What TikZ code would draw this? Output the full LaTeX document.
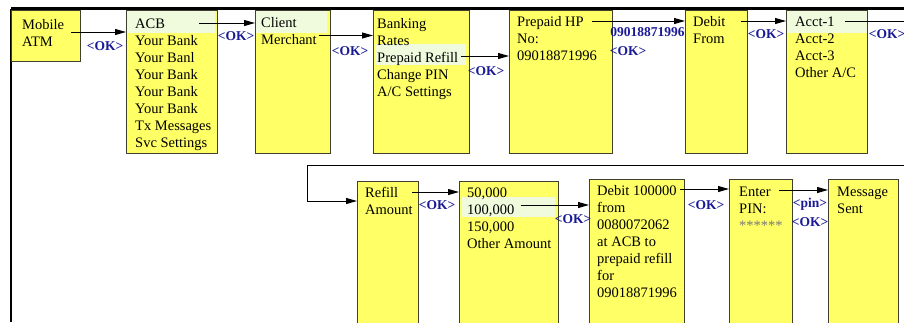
\documentclass[tikz,border=0pt]{standalone}
\usepackage{fontspec}
\setmainfont{Liberation Serif}
\usetikzlibrary{arrows.meta}

\definecolor{screenfill}{RGB}{255,255,102}
\definecolor{screenline}{RGB}{64,64,48}
\definecolor{selgreen}{RGB}{240,250,220}
\definecolor{keyblue}{RGB}{26,26,150}
\definecolor{maskgray}{RGB}{120,120,120}

\tikzset{
  screen/.style={draw=screenline,fill=screenfill,line width=1.1pt,anchor=north west,inner sep=0pt},
  entry/.style={anchor=base west,inner sep=0pt,text height=10pt,text depth=0pt,font=\fontsize{14.5}{17}\selectfont},
  key/.style={inner sep=0pt,text=keyblue,font=\bfseries\fontsize{13.5}{14}\selectfont},
  flow/.style={line width=1pt,-{Triangle[length=11pt,width=6pt]}},
  sel/.style={fill=selgreen}
}

\begin{document}
\begin{tikzpicture}[x=1pt,y=1pt]
\useasboundingbox (0,0) rectangle (904,-322);
\clip (0,0) rectangle (904,-322);

% frame
\draw[line width=3pt] (11,-8.5) -- (904,-8.5);
\draw[line width=1.5pt] (11,-8.5) -- (11,-322);

% screens, first row
\node[screen,minimum width=69pt,minimum height=51pt] (atm) at (11,-10) {};
\node[screen,minimum width=91pt,minimum height=143pt] (menu) at (126,-10) {};
\node[screen,minimum width=75pt,minimum height=143pt] (client) at (255,-10) {};
\node[screen,minimum width=96pt,minimum height=143pt] (services) at (373,-10) {};
\node[screen,minimum width=103pt,minimum height=143pt] (phone) at (509,-10) {};
\node[screen,minimum width=62pt,minimum height=143pt] (debitfrom) at (685,-10) {};
\node[screen,minimum width=81pt,minimum height=143pt] (accounts) at (786,-10) {};

% screens, second row
\node[screen,minimum width=61pt,minimum height=150pt] (refillbox) at (357,-181) {};
\node[screen,minimum width=99pt,minimum height=150pt] (amounts) at (459,-181) {};
\node[screen,minimum width=95pt,minimum height=150pt] (confirm) at (589,-179) {};
\node[screen,minimum width=63pt,minimum height=150pt] (pinbox) at (729,-179) {};
\node[screen,minimum width=70pt,minimum height=150pt] (sent) at (828,-179) {};

% selected lines
\fill[sel] (127,-11) rectangle (215,-33);
\fill[sel] (256,-11) rectangle (327,-33);
\fill[sel] (375,-44) rectangle (466,-65);
\fill[sel] (787,-11) rectangle (866.5,-33);
\fill[sel] (462,-197) rectangle (555,-217);

% texts
\node[entry,text height=0pt,text depth=5pt] (mobile) at (22,-29.5) {Mobile};
\node[entry] (atmtxt) at (22,-46.5) {ATM};

\node[entry] (acb) at (135,-28) {ACB};
\node[entry] (bank1) at (135,-45) {Your Bank};
\node[entry] (bank2) at (135,-62) {Your Banl};
\node[entry] (bank3) at (135,-79) {Your Bank};
\node[entry] (bank4) at (135,-96) {Your Bank};
\node[entry] (bank5) at (135,-113) {Your Bank};
\node[entry] (txmsg) at (135,-130) {Tx Messages};
\node[entry] (svcset) at (135,-147) {Svc Settings};

\node[entry] (clienttxt) at (261,-27.5) {Client};
\node[entry,text height=18pt] (merchant) at (261,-44.5) {Merchant};

\node[entry] (banking) at (377,-28) {Banking};
\node[entry] (rates) at (377,-45) {Rates};
\node[entry,text height=12pt] (prepaid) at (377,-62) {Prepaid Refill};
\node[entry] (changepin) at (377,-79) {Change PIN};
\node[entry] (acset) at (377,-96) {A/C Settings};

\node[entry] (hp) at (517,-26) {Prepaid HP};
\node[entry] (hpno) at (517,-43) {No:};
\node[entry] (hpnum) at (517,-60) {09018871996};

\node[entry] (debit) at (693,-26) {Debit};
\node[entry] (from) at (693,-43) {From};

\node[entry] (acct1) at (795,-26.5) {Acct-1};
\node[entry] (acct2) at (795,-43.5) {Acct-2};
\node[entry] (acct3) at (795,-60.5) {Acct-3};
\node[entry] (otherac) at (795,-77.5) {Other A/C};

\node[entry] (refill) at (365,-197) {Refill};
\node[entry] (amount) at (365,-214) {Amount};

\node[entry] (amt50) at (467,-197) {50,000};
\node[entry,text height=18pt] (amt100) at (467,-214) {100,000};
\node[entry] (amt150) at (467,-231) {150,000};
\node[entry] (amtother) at (467,-248) {Other Amount};

\node[entry,text height=12pt] (debitamt) at (597,-195) {Debit 100000};
\node[entry] (cfrom) at (597,-212) {from};
\node[entry] (cacct) at (597,-229) {0080072062};
\node[entry] (cbank) at (597,-246) {at ACB to};
\node[entry] (crefill) at (597,-263) {prepaid refill};
\node[entry] (cfor) at (597,-280) {for};
\node[entry] (cnum) at (597,-297) {09018871996};

\node[entry,text height=12pt] (enter) at (739,-196) {Enter};
\node[entry] (pintxt) at (739,-213) {PIN:};
\node[entry,text=maskgray] (mask) at (739,-230) {******};

\node[entry] (message) at (837,-196) {Message};
\node[entry] (senttxt) at (837,-213) {Sent};

% connectors
\draw[flow] ([xshift=7pt]mobile.east) -- (mobile -| menu.west);
\draw[flow] ([xshift=34pt]acb.east) -- (acb -| client.west);
\draw[flow] ([xshift=2pt]merchant.east) -- (merchant -| services.west);
\draw[flow] ([xshift=3pt]prepaid.east) -- (prepaid -| phone.west);
\draw[flow] ([xshift=8pt]hp.east) -- (hp -| debitfrom.west);
\draw[flow] ([xshift=15pt]debit.east) -- (debit -| accounts.west);
\draw[flow] ([xshift=10pt]acct1.east) -- ++(70,0)
  |- ([xshift=-50pt,yshift=16pt]refillbox.north west)
  |- ([yshift=-20pt]refillbox.north west);
\draw[flow] ([xshift=14pt]refill.east) -- (refill -| amounts.west);
\draw[flow] ([xshift=6pt]amt100.east) -- (amt100 -| confirm.west);
\draw[flow] ([xshift=3pt]debitamt.east) -- (debitamt -| pinbox.west);
\draw[flow] ([xshift=8pt]enter.east) -- (enter -| sent.west);

% keys
\node[key] (okmobile) at (105,-46) {<OK>};
\node[key] (okacb) at (236,-36) {<OK>};
\node[key] (okmerchant) at (350,-51) {<OK>};
\node[key] (okprepaid) at (486,-71) {<OK>};
\node[key] (keynum) at (647.5,-32) {09018871996};
\node[key] (okhp) at (628,-51) {<OK>};
\node[key] (okdebit) at (766,-34) {<OK>};
\node[key] (okacct) at (887,-34) {<OK>};
\node[key] (okrefill) at (437,-205) {<OK>};
\node[key] (okamt) at (573,-219) {<OK>};
\node[key] (okdebitamt) at (706,-205) {<OK>};
\node[key] (keypin) at (810,-204) {<pin>};
\node[key] (okpin) at (810,-222) {<OK>};

\end{tikzpicture}
\end{document}
